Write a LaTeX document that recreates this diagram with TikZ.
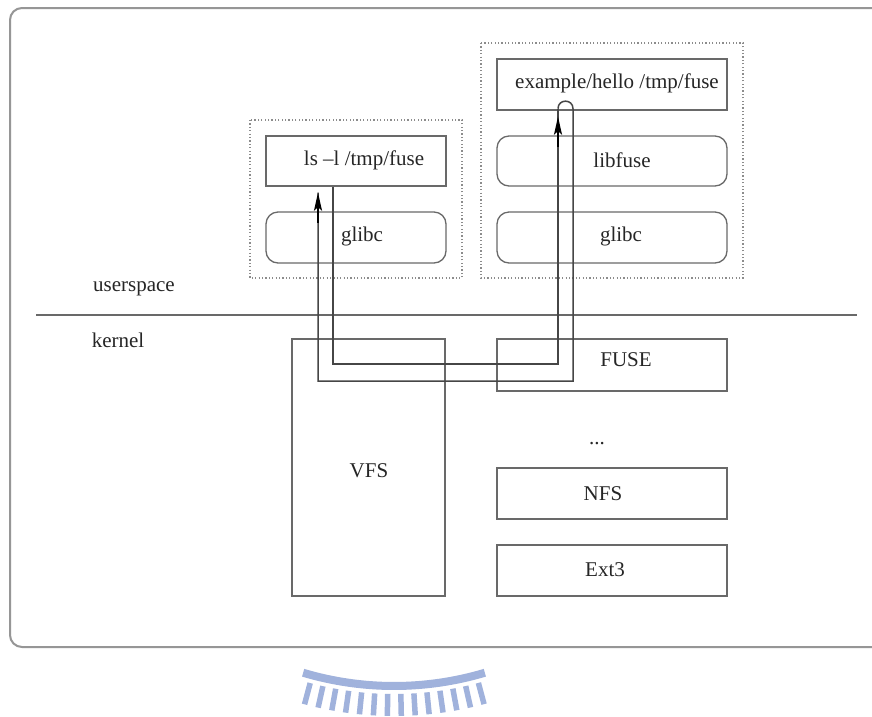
\documentclass[tikz,border=0pt]{standalone}
\usepackage{fontspec}
\setmainfont{Liberation Serif}
\usetikzlibrary{arrows.meta,calc}
\definecolor{boxgray}{RGB}{105,105,105}
\definecolor{outergray}{RGB}{150,150,150}
\definecolor{dotgray}{RGB}{140,140,140}
\definecolor{conngray}{RGB}{70,70,70}
\definecolor{wmblue}{RGB}{160,178,220}
\tikzset{
  txt/.style={font=\fontsize{21}{25}\selectfont, inner sep=0pt, text=black!85},
  plainbox/.style={draw=boxgray, line width=1.3pt, inner sep=0pt},
  roundbox/.style={plainbox, rounded corners=12pt},
  dotbox/.style={draw=dotgray, line width=1.2pt, dash pattern=on 1.2pt off 2.2pt},
  conn/.style={draw=conngray, line width=1.5pt},
  tip/.style={-{Stealth[length=18pt,width=8pt,inset=3.5pt]}},
}
\begin{document}
\begin{tikzpicture}[x=1pt,y=-1pt]
\useasboundingbox (0,0) rectangle (872,716);
\clip (0,0) rectangle (872,716);
\fill[white] (0,0) rectangle (872,716);
% outer frame
\draw[draw=outergray, line width=2pt, rounded corners=12pt] (10,8) rectangle (900,647);
% separator
\draw[draw=boxgray, line width=1.3pt] (36,315) -- (857,315);
\node[txt] (us) at (134,289) {userspace};
\node[txt] (kn) at (118,340) {kernel};
% dotted groups
\draw[dotbox] (250,120) rectangle (462,278);
\draw[dotbox] (481,43) rectangle (743,278);
% left group
\node[plainbox, minimum width=180pt, minimum height=50pt] (ls) at (356,161) {};
\node[txt] (lst) at (364,160) {ls –l /tmp/fuse};
\node[roundbox, minimum width=180pt, minimum height=51pt] (glL) at (356,237.5) {};
\node[txt] (glLt) at (362,236) {glibc};
% right group
\node[plainbox, minimum width=230pt, minimum height=51pt] (ex) at (612,84.5) {};
\node[txt] (ext) at (617,83) {example/hello /tmp/fuse};
\node[roundbox, minimum width=230pt, minimum height=50pt] (lf) at (612,161) {};
\node[txt] (lft) at (622,160) {libfuse};
\node[roundbox, minimum width=230pt, minimum height=51pt] (glR) at (612,237.5) {};
\node[txt] (glRt) at (621,236) {glibc};
% kernel
\node[plainbox, minimum width=153pt, minimum height=257pt] (vfs) at (368.5,467.5) {};
\node[txt] (vfst) at (369,471) {VFS};
\node[plainbox, minimum width=230pt, minimum height=52pt] (fuse) at (612,365) {};
\node[txt] (fuset) at (626,360) {FUSE};
\node[txt] (dots) at (597,444) {...};
\node[plainbox, minimum width=230pt, minimum height=51pt] (nfs) at (612,493.5) {};
\node[txt] (nfst) at (603,494) {NFS};
\node[plainbox, minimum width=230pt, minimum height=51pt] (ext3) at (612,570.5) {};
\node[txt] (ext3t) at (605,570) {Ext3};
% connectors
\coordinate (turnA) at (558,364);
\coordinate (tipA) at ([xshift=-54pt,yshift=-6pt]ex.south);
\coordinate (humpL) at ([xshift=-54pt,yshift=2pt]ex.south);
\coordinate (humpR) at ([xshift=-39pt,yshift=2pt]ex.south);
\coordinate (downB) at (573,381);
\coordinate (tipB) at ([xshift=-38pt,yshift=-6pt]ls.south);
\draw[conn] (humpL) -- (tipA);
\draw[conn] (humpL) .. controls +(0,-10) and +(0,-10) .. (humpR) |- (downB) -| (tipB);
\draw[conn] ([xshift=-23pt]ls.south) |- (turnA) -- (tipA);
\draw[conn, tip, draw=black] ([yshift=-30pt]tipA) -- (tipA);
\draw[conn, tip, draw=black] ([yshift=-30pt]tipB) -- (tipB);
% watermark
\begin{scope}[wmblue]
\draw[line width=8pt] (394,368) ++(106.6:318) arc[start angle=106.6,end angle=73.4,radius=318];
\foreach \a in {75,77.3,...,105.5} \draw[line width=5.5pt] (394,368) ++(\a:326) -- ++(\a:22);
\end{scope}
\end{tikzpicture}
\end{document}
